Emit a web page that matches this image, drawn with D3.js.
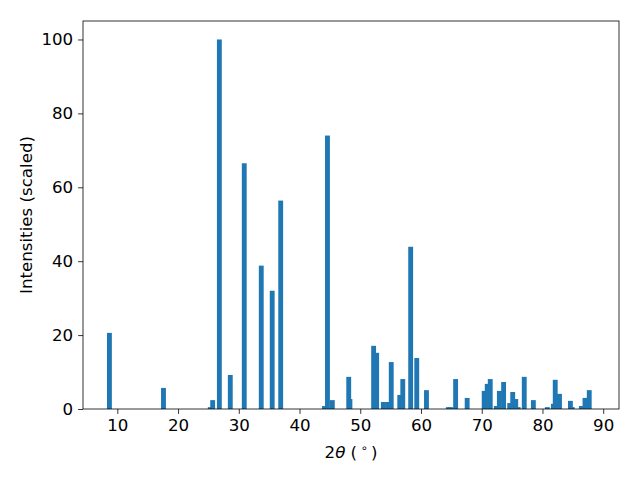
<!DOCTYPE html>
<html>
<head>
<meta charset="utf-8">
<script src="https://cdn.jsdelivr.net/npm/d3@7"></script>
<style>
    body { margin: 0; background: white; }
    svg { display: block; font-family: "DejaVu Sans", sans-serif; }
</style>
</head>
<body>
<div id="chart"></div>
<script>
// peak positions (2theta, degrees) and scaled intensities
const peakPositions = [
    8.7, 17.6, 25.3, 25.7, 26.8, 28.6, 30.9, 33.7, 35.5, 36.9,
    44.1, 44.6, 45.4, 48.1, 48.3, 52.2, 52.7, 53.8, 54.5, 55.1,
    56.5, 57.0, 58.3, 59.3, 60.9, 64.5, 64.9, 65.7, 67.6, 70.4,
    70.9, 71.4, 72.4, 72.9, 73.6, 74.6, 75.1, 75.6, 76.0, 77.0,
    78.5, 80.8, 81.8, 82.1, 82.8, 84.6, 84.9, 86.4, 87.0, 87.7
];
const peakIntensities = [
    20.6, 5.7, 0.5, 2.4, 100, 9.2, 66.5, 38.8, 32.0, 56.4,
    0.8, 74.0, 2.4, 8.7, 2.7, 17.1, 15.2, 1.9, 1.9, 12.7,
    3.8, 8.1, 43.9, 13.8, 5.1, 0.5, 0.5, 8.1, 3.0, 4.9,
    6.8, 8.1, 0.8, 4.9, 7.3, 1.6, 4.6, 2.7, 0.5, 8.7,
    2.4, 0.5, 1.4, 7.9, 4.1, 2.2, 0.5, 0.8, 3.0, 5.1
];
const xTicks = [10, 20, 30, 40, 50, 60, 70, 80, 90];
const yTicks = [0, 20, 40, 60, 80, 100];

const svgWidth = 640;
const svgHeight = 480;
const margin = { left: 83, right: 21, top: 21, bottom: 71 };
const barWidth = 0.8;
const fontSize = 16.67;

const svg = d3.select('#chart')
    .append('svg')
    .attr('width', svgWidth)
    .attr('height', svgHeight);

const xScale = d3.scaleLinear()
    .domain([4.35, 92.6])
    .range([margin.left, svgWidth - margin.right]);

const yScale = d3.scaleLinear()
    .domain([0, 105])
    .range([svgHeight - margin.bottom, margin.top]);

const peaks = peakPositions.map((p, i) => ({ pos: p, value: peakIntensities[i] }));

svg.append('g')
    .selectAll('rect')
    .data(peaks)
    .join('rect')
        .attr('x', d => xScale(d.pos - barWidth / 2))
        .attr('width', d => xScale(d.pos + barWidth / 2) - xScale(d.pos - barWidth / 2))
        .attr('y', d => yScale(d.value))
        .attr('height', d => yScale(0) - yScale(d.value))
        .attr('fill', '#1f77b4');

const xAxis = svg.append('g')
    .attr('transform', `translate(0, ${svgHeight - margin.bottom})`)
    .call(d3.axisBottom(xScale).tickValues(xTicks).tickSize(4.9).tickPadding(4.9));

const yAxis = svg.append('g')
    .attr('transform', `translate(${margin.left}, 0)`)
    .call(d3.axisLeft(yScale).tickValues(yTicks).tickSize(4.9).tickPadding(4.9));

[xAxis, yAxis].forEach(axis => {
    axis.select('.domain').remove();
    axis.selectAll('.tick line').attr('stroke', 'black').attr('stroke-width', 0.8);
    axis.selectAll('.tick text')
        .attr('fill', 'black')
        .attr('font-family', '"DejaVu Sans", sans-serif')
        .attr('font-size', fontSize);
});

// frame
svg.append('rect')
    .attr('x', margin.left)
    .attr('y', margin.top)
    .attr('width', svgWidth - margin.left - margin.right)
    .attr('height', svgHeight - margin.top - margin.bottom)
    .attr('fill', 'none')
    .attr('stroke', 'black')
    .attr('stroke-width', 0.8);

const xLabel = svg.append('text')
    .attr('x', (margin.left + svgWidth - margin.right) / 2)
    .attr('y', 458)
    .attr('text-anchor', 'middle')
    .attr('font-size', fontSize);
xLabel.append('tspan').text('2');
xLabel.append('tspan').attr('font-style', 'italic').text('θ');
xLabel.append('tspan').text(' (\u2009');
xLabel.append('tspan').attr('font-size', 11.5).attr('dy', -6).text('∘');
xLabel.append('tspan').attr('dy', 6).text('\u2009)');

svg.append('text')
    .attr('transform', `translate(32, ${(margin.top + svgHeight - margin.bottom) / 2}) rotate(-90)`)
    .attr('text-anchor', 'middle')
    .attr('font-size', fontSize)
    .text('Intensities (scaled)');
</script>
</body>
</html>
